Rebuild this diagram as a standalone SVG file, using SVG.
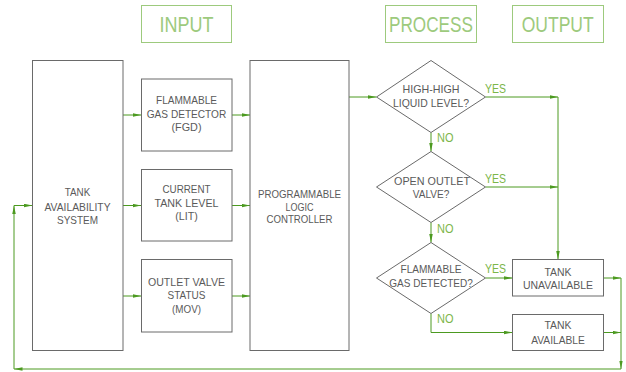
<svg xmlns="http://www.w3.org/2000/svg" width="626" height="372" viewBox="0 0 626 372">
  <style>
    .box { fill: #ffffff; stroke: #6a6a6a; stroke-width: 1; }
    .hdr { fill: none; stroke: #9dca7d; stroke-width: 1; }
    .hdrt { font-family: "Liberation Sans", sans-serif; font-size: 22px; fill: #9dca7d; text-anchor: middle; }
    .t { font-family: "Liberation Sans", sans-serif; font-size: 11.8px; fill: #5a5a5a; text-anchor: middle; }
    .lbl { font-family: "Liberation Sans", sans-serif; font-size: 12.5px; fill: #7cb64a; }
    .ln { fill: none; stroke: #4c9a20; stroke-width: 1; }
  </style>
  <defs>
    <marker id="ah" markerUnits="userSpaceOnUse" markerWidth="9" markerHeight="4" refX="8.5" refY="1.75" orient="auto">
      <path d="M0,0 L8.5,1.75 L0,3.5 Z" fill="#4c9a20"/>
    </marker>
  </defs>

  <!-- column headers -->
  <g id="hdr-input">
    <rect class="hdr" x="141.5" y="5.5" width="90" height="37"/>
    <text class="hdrt" x="186.5" y="31.7" textLength="54" lengthAdjust="spacingAndGlyphs">INPUT</text>
  </g>
  <g id="hdr-process">
    <rect class="hdr" x="385.5" y="5.5" width="91" height="37"/>
    <text class="hdrt" x="431" y="31.7" textLength="84" lengthAdjust="spacingAndGlyphs">PROCESS</text>
  </g>
  <g id="hdr-output">
    <rect class="hdr" x="512.5" y="5.5" width="91" height="37"/>
    <text class="hdrt" x="557.7" y="31.7" textLength="72" lengthAdjust="spacingAndGlyphs">OUTPUT</text>
  </g>

  <!-- connectors -->
  <g id="connectors">
    <line class="ln" x1="123" y1="115" x2="141" y2="115" marker-end="url(#ah)"/>
    <line class="ln" x1="123" y1="205.5" x2="141" y2="205.5" marker-end="url(#ah)"/>
    <line class="ln" x1="123" y1="296" x2="141" y2="296" marker-end="url(#ah)"/>
    <line class="ln" x1="232" y1="115" x2="250" y2="115" marker-end="url(#ah)"/>
    <line class="ln" x1="232" y1="205.5" x2="250" y2="205.5" marker-end="url(#ah)"/>
    <line class="ln" x1="232" y1="296" x2="250" y2="296" marker-end="url(#ah)"/>
    <line class="ln" x1="349" y1="97" x2="376.5" y2="97" marker-end="url(#ah)"/>
    <line class="ln" x1="485.5" y1="97" x2="558" y2="97" marker-end="url(#ah)"/>
    <line class="ln" x1="558" y1="97" x2="558" y2="259.5" marker-end="url(#ah)"/>
    <line class="ln" x1="485.5" y1="187" x2="558" y2="187" marker-end="url(#ah)"/>
    <line class="ln" x1="431" y1="132.5" x2="431" y2="151.5" marker-end="url(#ah)"/>
    <line class="ln" x1="431" y1="222.5" x2="431" y2="242.5" marker-end="url(#ah)"/>
    <line class="ln" x1="485.5" y1="278" x2="512.5" y2="278" marker-end="url(#ah)"/>
    <polyline class="ln" points="431,313.5 431,332.5 512.5,332.5" marker-end="url(#ah)"/>
    <line class="ln" x1="603.5" y1="278" x2="621" y2="278" marker-end="url(#ah)"/>
    <line class="ln" x1="603.5" y1="332.5" x2="621" y2="332.5" marker-end="url(#ah)"/>
    <line class="ln" x1="621" y1="278" x2="621" y2="369" marker-end="url(#ah)"/>
    <line class="ln" x1="621" y1="369" x2="14" y2="369" marker-end="url(#ah)"/>
    <line class="ln" x1="14" y1="369" x2="14" y2="205.5" marker-end="url(#ah)"/>
    <line class="ln" x1="14" y1="205.5" x2="32.5" y2="205.5" marker-end="url(#ah)"/>
  </g>

  <!-- branch labels -->
  <g id="labels">
    <text class="lbl" x="485" y="92.7" textLength="21" lengthAdjust="spacingAndGlyphs">YES</text>
    <text class="lbl" x="485" y="183.3" textLength="21" lengthAdjust="spacingAndGlyphs">YES</text>
    <text class="lbl" x="485" y="273.3" textLength="21" lengthAdjust="spacingAndGlyphs">YES</text>
    <text class="lbl" x="437" y="142.3" textLength="16.5" lengthAdjust="spacingAndGlyphs">NO</text>
    <text class="lbl" x="437" y="233.3" textLength="16.5" lengthAdjust="spacingAndGlyphs">NO</text>
    <text class="lbl" x="437" y="323.3" textLength="16.5" lengthAdjust="spacingAndGlyphs">NO</text>
  </g>

  <!-- nodes -->
  <g id="tank-availability-system">
    <rect class="box" x="32.5" y="60.5" width="90.5" height="290"/>
    <text class="t" x="77.5" y="196" textLength="25.5" lengthAdjust="spacingAndGlyphs">TANK</text>
    <text class="t" x="77.5" y="210.5" textLength="66" lengthAdjust="spacingAndGlyphs">AVAILABILITY</text>
    <text class="t" x="77.5" y="224" textLength="41" lengthAdjust="spacingAndGlyphs">SYSTEM</text>
  </g>
  <g id="flammable-gas-detector">
    <rect class="box" x="141.5" y="79" width="90.5" height="72"/>
    <text class="t" x="186.5" y="104" textLength="61" lengthAdjust="spacingAndGlyphs">FLAMMABLE</text>
    <text class="t" x="186.5" y="117.5" textLength="79.5" lengthAdjust="spacingAndGlyphs">GAS DETECTOR</text>
    <text class="t" x="186.5" y="131" textLength="30" lengthAdjust="spacingAndGlyphs">(FGD)</text>
  </g>
  <g id="current-tank-level">
    <rect class="box" x="141.5" y="169.5" width="90.5" height="71.5"/>
    <text class="t" x="186.5" y="193.3" textLength="48" lengthAdjust="spacingAndGlyphs">CURRENT</text>
    <text class="t" x="186.5" y="206.7" textLength="64" lengthAdjust="spacingAndGlyphs">TANK LEVEL</text>
    <text class="t" x="186.5" y="220" textLength="22.5" lengthAdjust="spacingAndGlyphs">(LIT)</text>
  </g>
  <g id="outlet-valve-status">
    <rect class="box" x="141.5" y="259.5" width="90.5" height="72.5"/>
    <text class="t" x="186.5" y="286" textLength="77" lengthAdjust="spacingAndGlyphs">OUTLET VALVE</text>
    <text class="t" x="186.5" y="299.3" textLength="38" lengthAdjust="spacingAndGlyphs">STATUS</text>
    <text class="t" x="186.5" y="313" textLength="29" lengthAdjust="spacingAndGlyphs">(MOV)</text>
  </g>
  <g id="plc">
    <rect class="box" x="250" y="60.5" width="99" height="290"/>
    <text class="t" x="299.5" y="197.7" textLength="83" lengthAdjust="spacingAndGlyphs">PROGRAMMABLE</text>
    <text class="t" x="299.5" y="210.5" textLength="28" lengthAdjust="spacingAndGlyphs">LOGIC</text>
    <text class="t" x="299.5" y="223.3" textLength="66" lengthAdjust="spacingAndGlyphs">CONTROLLER</text>
  </g>
  <g id="decision-high-level">
    <polygon class="box" points="431,60.5 485.5,97 431,132.5 376.5,97"/>
    <text class="t" x="431" y="93.3" textLength="57" lengthAdjust="spacingAndGlyphs">HIGH-HIGH</text>
    <text class="t" x="431" y="107.3" textLength="76" lengthAdjust="spacingAndGlyphs">LIQUID LEVEL?</text>
  </g>
  <g id="decision-outlet-valve">
    <polygon class="box" points="431,151.5 485.5,187 431,222.5 376.5,187"/>
    <text class="t" x="432" y="185" textLength="76" lengthAdjust="spacingAndGlyphs">OPEN OUTLET</text>
    <text class="t" x="431" y="198.3" textLength="36.5" lengthAdjust="spacingAndGlyphs">VALVE?</text>
  </g>
  <g id="decision-gas">
    <polygon class="box" points="431,242.5 485.5,278 431,313.5 376.5,278"/>
    <text class="t" x="431" y="272.7" textLength="61" lengthAdjust="spacingAndGlyphs">FLAMMABLE</text>
    <text class="t" x="431" y="287" textLength="83.5" lengthAdjust="spacingAndGlyphs">GAS DETECTED?</text>
  </g>
  <g id="tank-unavailable">
    <rect class="box" x="512.5" y="259.5" width="91" height="36.5"/>
    <text class="t" x="558" y="275.7" textLength="27" lengthAdjust="spacingAndGlyphs">TANK</text>
    <text class="t" x="558" y="289.3" textLength="70" lengthAdjust="spacingAndGlyphs">UNAVAILABLE</text>
  </g>
  <g id="tank-available">
    <rect class="box" x="512.5" y="314.5" width="91" height="36"/>
    <text class="t" x="558" y="329.3" textLength="27" lengthAdjust="spacingAndGlyphs">TANK</text>
    <text class="t" x="558" y="344" textLength="53.5" lengthAdjust="spacingAndGlyphs">AVAILABLE</text>
  </g>
</svg>
